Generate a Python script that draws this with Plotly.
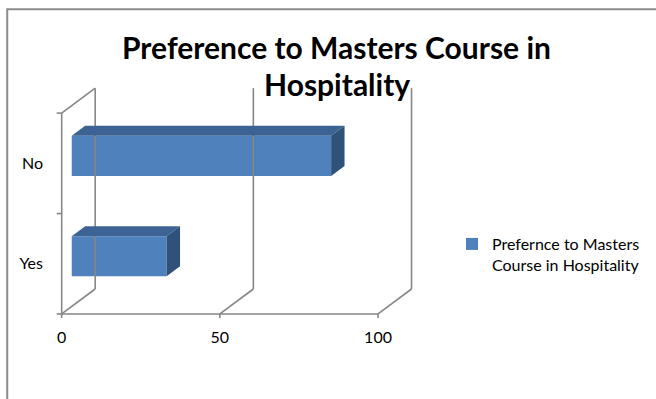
import plotly.graph_objects as go

# Survey answers and counts
categories = ["Yes", "No"]
values = [30, 82]
series_name = "Prefernce to Masters<br>Course in Hospitality"
x_ticks = [0, 50, 100]
title_lines = ["Preference to Masters Course in", "Hospitality"]

# ---- layout geometry (pixels) ----
W, H = 656, 399
X0_PX, X100_PX = 61.5, 378.0          # front axis: value 0 and 100
Y_BOT_PX, Y_TOP_PX = 314.0, 113.0     # front axis: bottom / top of category span
sx = (X100_PX - X0_PX) / 100.0        # px per value unit
sy = (Y_BOT_PX - Y_TOP_PX) / len(categories)  # px per category unit

DEPTH_DX_PX, DEPTH_DY_PX = 33.5, 25.0  # oblique depth offset of the back wall
ddx = DEPTH_DX_PX / sx                # depth offset in value units
ddy = DEPTH_DY_PX / sy                # depth offset in category units

x_range = [-1.8, 112.0]
y_range = [-0.56, 1.78]
margin_l = X0_PX + x_range[0] * sx
plot_w = (x_range[1] - x_range[0]) * sx
margin_r = W - margin_l - plot_w
y0_px = Y_BOT_PX - 0.5 * sy           # pixel of category position 0
margin_t = y0_px - y_range[1] * sy
plot_h = (y_range[1] - y_range[0]) * sy
margin_b = H - margin_t - plot_h


def paper_x(px):
    return (px - margin_l) / plot_w


def paper_y(py):
    return 1 - (py - margin_t) / plot_h


GRID = "#868686"
FRONT = "#4F81BD"
TOP = "#3C6393"
SIDE = "#30527A"
FONT = "Lato"

fig = go.Figure()


def line(xs, ys, width=1.6):
    fig.add_trace(go.Scatter(x=xs, y=ys, mode="lines", showlegend=False,
                             hoverinfo="skip",
                             line=dict(color=GRID, width=width)))


n = len(categories)
lo, hi = -0.5, n - 0.5

# back wall verticals and floor diagonals
for v in x_ticks:
    line([v + ddx, v + ddx], [lo + ddy, hi + ddy])
    line([v, v + ddx], [lo, lo + ddy])
# left wall top edge
line([0, ddx], [hi, hi + ddy])
# front axes
line([0, 0], [lo, hi])
line([0, 100], [lo, lo])
# tick marks
tick_dx = 5.0 / sx
tick_dy = 4.0 / sy
for k in range(n + 1):
    line([-tick_dx, 0], [lo + k, lo + k])
for v in x_ticks:
    line([v, v], [lo, lo - tick_dy])

# bars: front face drawn as a bar, top and side faces as filled polygons
bar_w = 0.4
f0, f1 = 0.3, 0.7          # depth span occupied by the bars
base = f0 * ddx
ypos = [i + f0 * ddy for i in range(n)]
bdx = (f1 - f0) * ddx
bdy = (f1 - f0) * ddy

for i, v in enumerate(values):
    yc = ypos[i]
    yt, yb = yc + bar_w / 2, yc - bar_w / 2
    xl, xr = base, base + v
    fig.add_trace(go.Scatter(
        x=[xl, xr, xr + bdx, xl + bdx, xl], y=[yt, yt, yt + bdy, yt + bdy, yt],
        fill="toself", fillcolor=TOP, mode="lines", line=dict(width=0, color=TOP),
        showlegend=False, hoverinfo="skip"))
    fig.add_trace(go.Scatter(
        x=[xr, xr + bdx, xr + bdx, xr, xr], y=[yb, yb + bdy, yt + bdy, yt, yb],
        fill="toself", fillcolor=SIDE, mode="lines", line=dict(width=0, color=SIDE),
        showlegend=False, hoverinfo="skip"))

fig.add_trace(go.Bar(
    orientation="h", y=ypos, x=values, base=base, width=bar_w,
    marker=dict(color=FRONT, line=dict(width=0)),
    name=series_name, showlegend=True))

# title
title_font = dict(family=FONT, size=30, color="#000000")
fig.add_annotation(text="<b>%s</b>" % title_lines[0], xref="paper", yref="paper",
                   x=paper_x(336), y=paper_y(47), showarrow=False,
                   xanchor="center", yanchor="middle", font=title_font)
fig.add_annotation(text="<b>%s</b>" % title_lines[1], xref="paper", yref="paper",
                   x=paper_x(337), y=paper_y(84), showarrow=False,
                   xanchor="center", yanchor="middle", font=title_font)

# chart border
fig.add_shape(type="rect", xref="paper", yref="paper",
              x0=paper_x(7), x1=paper_x(W + 10), y0=paper_y(9), y1=paper_y(H + 10),
              line=dict(color="#8C8C8C", width=2), layer="below")

fig.update_layout(
    width=W, height=H,
    margin=dict(l=margin_l, r=margin_r, t=margin_t, b=margin_b, pad=0),
    paper_bgcolor="white", plot_bgcolor="white",
    barmode="overlay",
    font=dict(family=FONT, size=16, color="#000000"),
    xaxis=dict(range=x_range, showgrid=False, zeroline=False, showline=False,
               tickmode="array", tickvals=x_ticks, ticktext=[str(t) for t in x_ticks],
               ticks="", ticklabelstandoff=6, tickfont=dict(size=16), fixedrange=True),
    yaxis=dict(range=y_range, showgrid=False, zeroline=False, showline=False,
               tickmode="array", tickvals=list(range(n)), ticktext=categories,
               ticks="", ticklabelstandoff=12, tickfont=dict(size=16), fixedrange=True),
    legend=dict(xref="container", yref="container", x=452 / W, y=1 - 227 / H,
                xanchor="left", yanchor="top", valign="top",
                font=dict(family=FONT, size=16, color="#000000"),
                bgcolor="rgba(0,0,0,0)"),
    showlegend=True,
)

fig.write_html("out.html")
